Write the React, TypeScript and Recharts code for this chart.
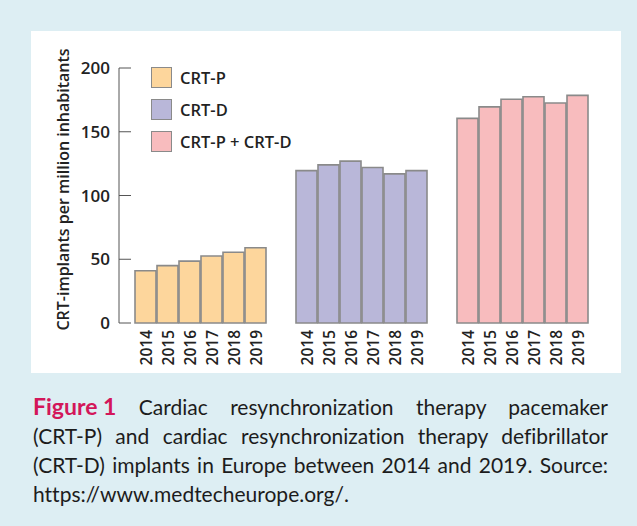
import { BarChart, Bar, XAxis, YAxis, Cell, LabelList, Legend } from "recharts";

const YEARS = ["2014", "2015", "2016", "2017", "2018", "2019"];
const GROUPS = ["CRT-P", "CRT-D", "CRT-P + CRT-D"];
const CRT_P = [41, 45, 48.5, 52.5, 55.5, 59];
const CRT_D = [119.5, 124, 127, 122, 117, 119.5];
const CRT_PD = [160.5, 169.5, 175.5, 177.5, 172.5, 178.5];
const Y_TICKS = [0, 50, 100, 150, 200];
const GROUP_EDGES = [0, 1, 2, 3];

const COLORS = ["#fdd69c", "#b9b7d9", "#f8bcbe"];
const BAR_STROKE = "#8a8a8a";
const AXIS_COLOR = "#555";
const BG_BLUE = "#ddeef3";
const FIG_RED = "#d3175a";
const FONT = "'Open Sans', sans-serif";

const SERIES = [CRT_P, CRT_D, CRT_PD];
const data = GROUPS.map((group, g) => {
  const row: Record<string, string | number> = { group };
  YEARS.forEach((year, i) => {
    row[year] = SERIES[g][i];
  });
  return row;
});

function YearLabel(props: any, year: string) {
  const vb = props.viewBox ?? props;
  const cx = vb.x + vb.width / 2;
  const bottom = vb.y + vb.height;
  return (
    <text
      x={cx}
      y={bottom + 7}
      transform={`rotate(-90 ${cx} ${bottom + 7})`}
      textAnchor="end"
      dominantBaseline="central"
      fontFamily={FONT}
      fontWeight={600}
      fontSize={15.5}
      fill="#222"
    >
      {year}
    </text>
  );
}

function YLabel(props: any) {
  const vb = props.viewBox;
  const x = vb.x + vb.width / 2;
  const y = vb.y + vb.height / 2 - 6;
  return (
    <text
      x={x}
      y={y}
      transform={`rotate(-90 ${x} ${y})`}
      textAnchor="middle"
      dominantBaseline="central"
      fontFamily={FONT}
      fontWeight={600}
      fontSize={16}
      fill="#222"
    >
      CRT-implants per million inhabitants
    </text>
  );
}

function LegendBox() {
  return (
    <div style={{ fontFamily: FONT, fontWeight: 600, fontSize: 16.5, color: "#222" }}>
      {GROUPS.map((name, i) => (
        <div key={name} style={{ display: "flex", alignItems: "center", height: 32 }}>
          <div
            style={{
              width: 19,
              height: 19,
              background: COLORS[i],
              border: `1.5px solid ${BAR_STROKE}`,
              marginRight: 8,
            }}
          />
          <span>{name}</span>
        </div>
      ))}
    </div>
  );
}

const justified = { textAlign: "justify" as const, textAlignLast: "justify" as const };

export default function App() {
  return (
    <div
      style={{
        position: "absolute",
        left: 0,
        top: 0,
        width: 637,
        height: 526,
        background: BG_BLUE,
        overflow: "hidden",
      }}
    >
      <div
        style={{
          position: "absolute",
          left: 31,
          top: 31,
          width: 590,
          height: 342,
          background: "#fff",
        }}
      />
      <div style={{ position: "absolute", left: 0, top: 0 }}>
        <BarChart
          width={637}
          height={380}
          data={data}
          margin={{ top: 68, right: 35, bottom: 57, left: 7 }}
          barGap={1}
          barCategoryGap={16}
        >
          <XAxis xAxisId="cat" dataKey="group" type="category" hide />
          <XAxis
            xAxisId="edges"
            type="number"
            domain={[0, 3]}
            ticks={GROUP_EDGES}
            height={0}
            stroke={AXIS_COLOR}
            tickSize={-7}
            tickFormatter={() => ""}
            tick={{ fontSize: 1 }}
          />
          <YAxis
            yAxisId="v"
            domain={[0, 200]}
            ticks={Y_TICKS}
            width={112}
            stroke={AXIS_COLOR}
            tickSize={-12}
            tickMargin={21}
            tick={{ fill: "#222", fontFamily: FONT, fontWeight: 600, fontSize: 17 }}
            label={(p: any) => <YLabel {...p} />}
          />
          <Legend
            layout="vertical"
            align="center"
            verticalAlign="middle"
            content={() => <LegendBox />}
            wrapperStyle={{ left: 151, top: 61, width: 200, height: "auto" }}
          />
          {YEARS.map((year) => (
            <Bar
              key={year}
              xAxisId="cat"
              yAxisId="v"
              dataKey={year}
              stroke={BAR_STROKE}
              strokeWidth={1.6}
              isAnimationActive={false}
            >
              {data.map((row, g) => (
                <Cell key={String(row.group)} fill={COLORS[g]} />
              ))}
              <LabelList dataKey={year} content={(p: any) => YearLabel(p, year)} />
            </Bar>
          ))}
        </BarChart>
      </div>
      <div
        style={{
          position: "absolute",
          left: 33,
          top: 392,
          width: 575,
          fontFamily: "Lato, sans-serif",
          fontSize: 21,
          lineHeight: "29px",
          color: "#1c1c1c",
          fontVariantLigatures: "none",
        }}
      >
        <div style={justified}>
          <span
            style={{ display: "inline-block", color: FIG_RED, fontWeight: 700, fontSize: 23 }}
          >
            Figure 1
          </span>{" "}
          Cardiac resynchronization therapy pacemaker
        </div>
        <div style={justified}>(CRT-P) and cardiac resynchronization therapy defibrillator</div>
        <div style={justified}>(CRT-D) implants in Europe between 2014 and 2019. Source:</div>
        <div>https://www.medtecheurope.org/.</div>
      </div>
    </div>
  );
}
